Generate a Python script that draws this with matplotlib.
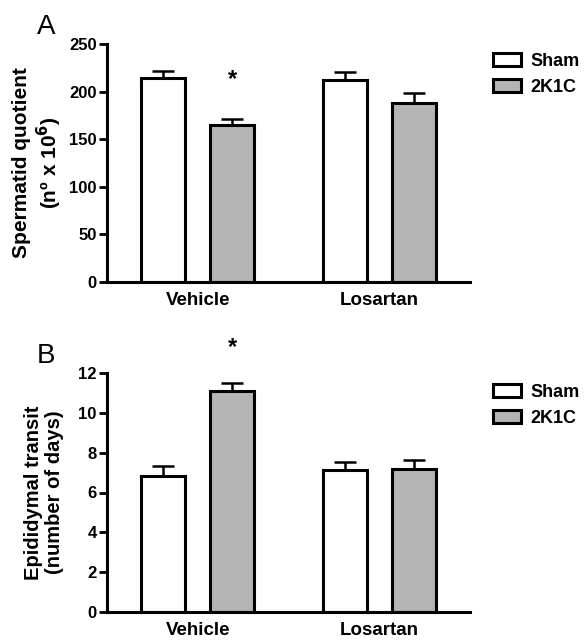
import matplotlib
matplotlib.use("Agg")
import matplotlib.pyplot as plt
import numpy as np

groups = ["Vehicle", "Losartan"]
series = ["Sham", "2K1C"]
colors = ["#ffffff", "#b4b4b4"]

a_sham = [214, 212]
a_sham_err = [8, 9]
a_2k1c = [165, 188]
a_2k1c_err = [6, 11]

b_sham = [6.85, 7.13]
b_sham_err = [0.5, 0.42]
b_2k1c = [11.1, 7.18]
b_2k1c_err = [0.38, 0.45]

a_ticks = [0, 50, 100, 150, 200, 250]
b_ticks = [0, 2, 4, 6, 8, 10, 12]

plt.rcParams['font.family'] = ['Liberation Sans', 'DejaVu Sans']

W, H = 584, 643
fig = plt.figure(figsize=(W/100, H/100), dpi=100)
axA = fig.add_axes([107/W, 1-282/H, 363/W, 238/H])
axB = fig.add_axes([107/W, 1-612/H, 363/W, 239/H])

x = np.arange(len(groups))
off = 0.19
w = 0.245
lw = 2.2

def draw(ax, sham, sham_err, k, k_err, ticks, ylim, ylabel, ylsize, star_y, letter, leg_top):
    vals = [sham, k]
    errs = [sham_err, k_err]
    handles = []
    for i, (v, e) in enumerate(zip(vals, errs)):
        pos = x + (-off if i == 0 else off)
        ax.errorbar(pos, v, yerr=[np.zeros(len(v)), e], fmt='none', ecolor='black',
                    elinewidth=1.8, capsize=8, capthick=1.8, zorder=1)
        b = ax.bar(pos, v, width=w, color=colors[i], edgecolor='black', linewidth=lw,
                   label=series[i], zorder=2)
        handles.append(b)
    ax.set_xlim(-0.5, 1.5)
    ax.set_ylim(*ylim)
    ax.set_yticks(ticks)
    ax.set_yticklabels([str(t) for t in ticks], fontweight='bold', fontsize=12)
    ax.set_xticks(x)
    ax.set_xticklabels(groups, fontweight='bold', fontsize=13.5)
    ax.tick_params(axis='x', length=0, pad=7)
    ax.tick_params(axis='y', length=6, width=2, pad=1.5)
    for s in ['top', 'right']:
        ax.spines[s].set_visible(False)
    for s in ['left', 'bottom']:
        ax.spines[s].set_linewidth(lw)
    ax.set_ylabel(ylabel, fontweight='bold', fontsize=ylsize, linespacing=1.15)
    ax.yaxis.set_label_coords(-43/363, 0.5)
    ax.text(x[0] + off, star_y, "*", ha='center', va='center', fontsize=17,
            fontweight='bold', clip_on=False)
    ax.text(-70/363, 1.07, letter, transform=ax.transAxes, fontsize=20, ha='left', va='center')
    leg = fig.legend(handles, series, loc='upper left',
                     bbox_to_anchor=(493/W, 1-leg_top/H), frameon=False,
                     prop={'weight': 'bold', 'size': 13}, handlelength=1.55, handleheight=0.72,
                     handletextpad=0.5, labelspacing=0.5, borderaxespad=0, borderpad=0)
    for p in leg.get_patches():
        p.set_linewidth(lw)

draw(axA, a_sham, a_sham_err, a_2k1c, a_2k1c_err, a_ticks, (0, 250),
     "Spermatid quotient\n(nº x 10$^\\mathbf{6}$)", 15, 213, "A", 53)
draw(axB, b_sham, b_sham_err, b_2k1c, b_2k1c_err, b_ticks, (0, 12),
     "Epididymal transit\n(number of days)", 14.5, 13.3, "B", 384)

fig.savefig("out.png", dpi=100)
